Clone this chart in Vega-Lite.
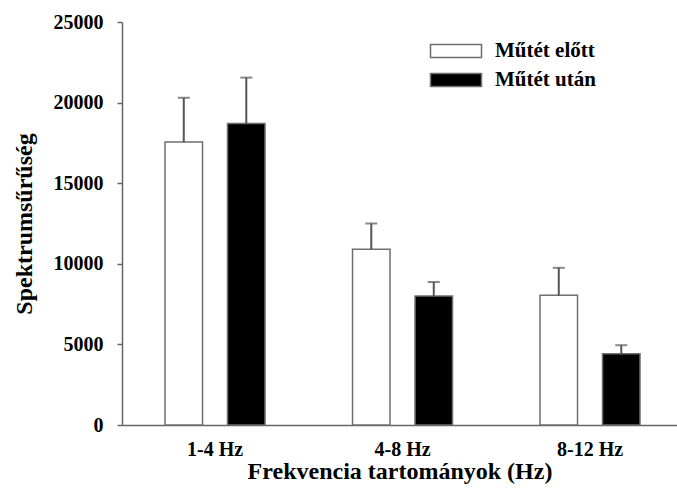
{
  "$schema": "https://vega.github.io/schema/vega-lite/v6.json",
  "width": 555,
  "height": 403,
  "autosize": {"type": "none"},
  "padding": {"left": 122, "top": 22, "right": 0, "bottom": 77},
  "background": "white",
  "config": {
    "font": "Liberation Serif",
    "view": {"stroke": null},
    "axis": {"domainColor": "#666666", "tickColor": "#666666", "domainWidth": 1.5, "tickWidth": 1.5, "grid": false, "labelColor": "black", "titleColor": "black", "labelFont": "Liberation Serif", "titleFont": "Liberation Serif", "labelFontWeight": "bold", "titleFontWeight": "bold"}
  },
  "data": {
    "values": [
      {"band": "1-4 Hz", "group": "Műtét előtt", "value": 17550, "upper": 20300},
      {"band": "1-4 Hz", "group": "Műtét után", "value": 18700, "upper": 21550},
      {"band": "4-8 Hz", "group": "Műtét előtt", "value": 10900, "upper": 12500},
      {"band": "4-8 Hz", "group": "Műtét után", "value": 8000, "upper": 8870},
      {"band": "8-12 Hz", "group": "Műtét előtt", "value": 8050, "upper": 9750},
      {"band": "8-12 Hz", "group": "Műtét után", "value": 4420, "upper": 4950}
    ]
  },
  "encoding": {
    "x": {
      "field": "band", "type": "nominal", "sort": ["1-4 Hz", "4-8 Hz", "8-12 Hz"],
      "scale": {"paddingInner": 0.3333, "paddingOuter": 0.1467, "align": 0.555},
      "axis": {"title": "Frekvencia tartományok (Hz)", "labelAngle": 0, "ticks": false, "labelPadding": 14, "labelFontSize": 20, "titleFontSize": 24, "titlePadding": 0}
    },
    "xOffset": {
      "field": "group", "type": "nominal", "sort": ["Műtét előtt", "Műtét után"],
      "scale": {"paddingInner": 0.4, "paddingOuter": 0.2}
    }
  },
  "layer": [
    {
      "mark": {"type": "bar", "stroke": "#6e6e6e", "strokeWidth": 1.5},
      "encoding": {
        "y": {
          "field": "value", "type": "quantitative",
          "scale": {"domain": [0, 25000], "nice": false},
          "axis": {"title": "Spektrumsűrűség", "values": [0, 5000, 10000, 15000, 20000, 25000], "format": "d", "tickSize": 5, "labelPadding": 14, "labelFontSize": 20, "titleFontSize": 24, "titlePadding": 17}
        },
        "color": {
          "field": "group", "type": "nominal", "sort": ["Műtét előtt", "Műtét után"],
          "scale": {"domain": ["Műtét előtt", "Műtét után"], "range": ["white", "black"]},
          "legend": {
            "title": null, "orient": "none", "legendX": 323, "legendY": 18,
            "symbolType": "M-2.55,-0.65H2.55V0.65H-2.55Z", "symbolSize": 400,
            "symbolStrokeColor": "#6e6e6e", "symbolStrokeWidth": 1.5,
            "labelFontSize": 21, "labelFontWeight": "bold", "labelFont": "Liberation Serif", "labelColor": "black",
            "labelOffset": 28, "rowPadding": 8
          }
        }
      }
    },
    {
      "mark": {"type": "rule", "stroke": "#555555", "strokeWidth": 2},
      "encoding": {
        "y": {"field": "value", "type": "quantitative"},
        "y2": {"field": "upper"}
      }
    },
    {
      "mark": {"type": "tick", "color": "#555555", "thickness": 2, "size": 12},
      "encoding": {
        "y": {"field": "upper", "type": "quantitative"}
      }
    }
  ]
}
